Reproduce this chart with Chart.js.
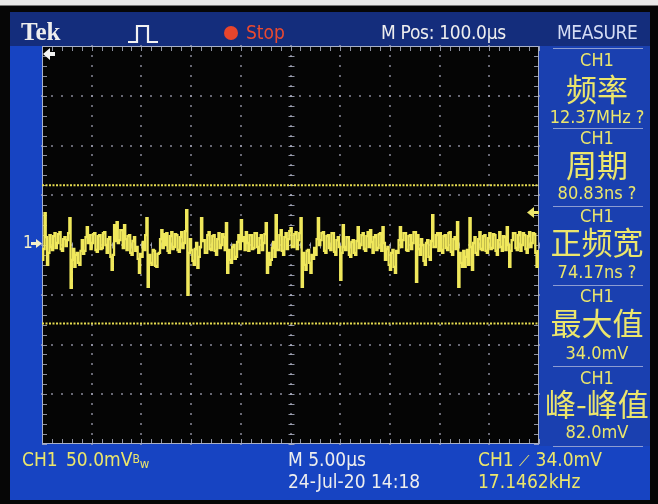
<!DOCTYPE html>
<html>
<head>
<meta charset="utf-8">
<script src="https://cdn.jsdelivr.net/npm/chart.js@4.4.1/dist/chart.umd.min.js"></script>
<style>
  body { margin: 0; background: #000; }
  #wrap { position: relative; width: 658px; height: 504px; overflow: hidden; background: #060606; }
  .blk { position: absolute; }
  .t { position: absolute; white-space: nowrap; line-height: 1; font-family: 'Liberation Sans Narrow', 'DejaVu Sans Condensed', sans-serif; z-index: 3; }
  .y { color: #ece66c; }
  .w { color: #eeeeee; }
  .cjk { font-family: 'Noto Sans CJK SC', sans-serif; font-size: 31px; }
  .mp { left: 545px; width: 104px; text-align: center; }
  .sep { position: absolute; left: 553px; width: 90px; height: 1px; background: #8d9dd2; z-index: 3; }
  #chart { position: absolute; left: 0; top: 0; z-index: 2; }
  svg { position: absolute; left: 0; top: 0; z-index: 3; }
</style>
</head>
<body>
<div id="wrap">
  <div class="blk" style="left:0;top:0;width:658px;height:5px;background:#e9e9e9"></div>
  <div class="blk" style="left:0;top:5px;width:658px;height:1px;background:#7a7a7a"></div>
  <div class="blk" style="left:10px;top:12px;width:640px;height:488px;background:#1744c2"></div>
  <div class="blk" style="left:10px;top:12px;width:640px;height:34px;background:#142d7c"></div>
  <div class="blk" style="left:539px;top:46px;width:111px;height:400px;background:#1a40b0"></div>

  <canvas id="chart" width="658" height="504"></canvas>

  <svg width="658" height="504">
    <polyline points="128,42 137,42 137,26 148,26 148,42 158,42" fill="none" stroke="#f2f2f2" stroke-width="2.2"/>
    <circle cx="231" cy="33" r="7" fill="#e8452c"/>
    <polygon points="43,54 50,48 50,52 55,52 55,56 50,56 50,60" fill="#f4f4f4"/>
  </svg>

  <div class="t w" style="left:21px;top:19px;font-family:'Liberation Serif',serif;font-weight:bold;font-size:25px">Tek</div>
  <div class="t" style="left:246px;top:23px;font-size:19px;color:#ea4a30">Stop</div>
  <div class="t w" style="left:381px;top:23px;font-size:19px;letter-spacing:-0.3px">M Pos: 100.0µs</div>
  <div class="t" style="left:557px;top:23px;font-size:19px;letter-spacing:-0.4px;color:#d4dcf4">MEASURE</div>
  <div class="sep" style="top:48px"></div>

  <div class="t y mp" style="top:51px;font-size:18px">CH1</div>
  <div class="t y mp cjk" style="top:72px">频率</div>
  <div class="t y mp" style="top:108px;font-size:18px">12.37MHz ?</div>
  <div class="sep" style="top:128px"></div>

  <div class="t y mp" style="top:129px;font-size:18px">CH1</div>
  <div class="t y mp cjk" style="top:148px">周期</div>
  <div class="t y mp" style="top:184px;font-size:18px">80.83ns ?</div>
  <div class="sep" style="top:206px"></div>

  <div class="t y mp" style="top:207px;font-size:18px">CH1</div>
  <div class="t y mp cjk" style="top:225px">正频宽</div>
  <div class="t y mp" style="top:263px;font-size:18px">74.17ns ?</div>
  <div class="sep" style="top:285px"></div>

  <div class="t y mp" style="top:287px;font-size:18px">CH1</div>
  <div class="t y mp cjk" style="top:306px">最大值</div>
  <div class="t y mp" style="top:344px;font-size:18px">34.0mV</div>
  <div class="sep" style="top:366px"></div>

  <div class="t y mp" style="top:369px;font-size:18px">CH1</div>
  <div class="t y mp cjk" style="top:387px">峰-峰值</div>
  <div class="t y mp" style="top:423px;font-size:18px">82.0mV</div>
  <div class="sep" style="top:446px"></div>

  <div class="t" style="left:23px;top:234px;font-size:17px;color:#f4f0c8">1</div>

  <div class="t y" style="left:22px;top:450px;font-size:19px">CH1</div>
  <div class="t y" style="left:66px;top:450px;font-size:19px">50.0mV<span style="font-size:12px;position:relative;top:-3px">B</span><span style="font-size:13px;position:relative;top:2px">w</span></div>
  <div class="t w" style="left:288px;top:450px;font-size:19px">M 5.00µs</div>
  <div class="t w" style="left:288px;top:472px;font-size:19px">24-Jul-20 14:18</div>
  <div class="t y" style="left:478px;top:450px;font-size:19px">CH1 <span style="font-family:'DejaVu Sans';font-size:15px">⟋</span> 34.0mV</div>
  <div class="t y" style="left:478px;top:472px;font-size:19px">17.1462kHz</div>
</div>

<script>
// CH1 trace, mV, one sample every 0.125 us (5 us/div, 10 div)
const ch1Volts = [
  -15, -4, 32, 8, -20, -8, 10, -2, -5, 9, 12, -3, 2, 11, 13, -4, -6, 6, 8, -1,
  5, 12, 27, -43, -15, -4, -22, -10, -8, -18, -20, -6, 5, -9, -6, 8, 18, 2, 10, -4,
  2, 11, 12, -5, -7, 9, 10, -4, -3, 12, 13, 0, -8, 6, 8, -12, -25, -10, 20, 4,
  23, 2, 5, 15, 15, -3, 20, 6, -5, 9, 10, -8, -10, 4, 8, -6, -2, -14, -28, -9,
  -12, 3, -5, 10, 27, -42, -10, -18, -20, -5, -6, -21, -22, -9, -8, 6, 15, -3, 11, 0,
  12, -6, -8, 9, 13, -4, -2, 11, 10, -5, -7, 8, 13, -3, 2, 14, 35, -50, -8, 6,
  -5, -16, -20, -4, 2, -23, -12, -2, 27, 4, 5, -8, -8, 10, 13, -4, -5, 9, 10, -6,
  -10, 6, 12, -3, 0, 11, 8, -5, 22, -28, -5, -15, -18, -2, 0, -14, -12, 3, 10, -4,
  25, 4, 8, -5, 13, 2, -6, 10, 10, -4, -3, 12, 12, -2, -8, 7, 10, -5, 2, 11,
  22, -28, -8, -20, -15, -3, 3, -12, 30, -5, -5, 10, 15, -6, -10, 8, 12, -4, 6, 14,
  17, -2, -2, 11, 13, -4, 5, 12, 27, -42, -8, -20, -25, -6, -5, -18, -28, -10, -14, -3,
  -10, 6, 27, 0, 5, 12, 13, -6, -8, 9, 10, -3, -5, 12, 12, -7, -10, 5, 8, -2,
  -35, -8, 20, -2, -5, 8, 8, -10, -12, 3, 5, -8, -10, 4, 18, -3, 0, 10, 12, -4,
  -6, 9, 13, -2, 15, 3, -8, 8, 10, -5, -3, 11, 12, -6, 18, 2, -15, -4, -2, -20,
  -25, -8, -5, -22, -28, -6, -8, 5, 18, -2, 5, 12, 12, -5, -6, 9, 10, -4, 2, 13,
  13, -37, 10, -4, -10, 6, 0, -16, -20, 2, 5, -12, -15, 4, 30, -2, -2, 10, 12, -6,
  12, -5, -8, 9, 10, -3, -5, 12, 13, -7, -10, 6, 8, -4, 23, -42, -8, -18, -22, -6,
  -22, -12, -5, -20, 27, -2, -25, 2, 8, -8, -10, 6, 13, -4, -5, 9, 10, -6, -8, 7,
  12, -4, -3, 11, 10, -6, -10, 5, 13, -2, -6, 9, 8, -5, 18, 0, -22, -6, 5, 12,
  12, -3, -5, 10, 13, -6, 0, 12, 10, -4, -8, 9, 13, -2, 2, 12, 11, -8, -22, -5
];
const sampleStep = 0.125;          // us
const xDivTicks = [0, 5, 10, 15, 20, 25, 30, 35, 40, 45, 50];              // us
const yDivTicks = [-200, -150, -100, -50, 0, 50, 100, 150, 200];          // mV
const cursorLevels = [60, -79];    // mV, yellow dotted lines
const triggerLevel = 34;           // mV
const groundLevel = 0;             // mV

const tracePoints = ch1Volts.map((v, i) => ({ x: i * sampleStep, y: v }));

const tekGrid = {
  id: 'tekGrid',
  beforeDatasetsDraw(chart) {
    const { ctx, chartArea: a, scales: { x, y } } = chart;
    ctx.save();
    ctx.fillStyle = '#050505';
    ctx.fillRect(a.left, a.top, a.right - a.left, a.bottom - a.top);

    const xMin = [], yMin = [];
    for (let v = 0; v <= 50; v += 1) xMin.push(v);
    for (let v = -200; v <= 200; v += 10) yMin.push(v);

    // dotted graticule
    ctx.fillStyle = 'rgba(170,170,190,0.6)';
    xDivTicks.slice(1, -1).forEach(xv => {
      const px = Math.round(x.getPixelForValue(xv));
      yMin.forEach(yv => ctx.fillRect(px - 1, Math.round(y.getPixelForValue(yv)) - 1, 2, 2));
    });
    yDivTicks.slice(1, -1).forEach(yv => {
      const py = Math.round(y.getPixelForValue(yv));
      xMin.forEach(xv => ctx.fillRect(Math.round(x.getPixelForValue(xv)) - 1, py - 1, 2, 2));
    });

    // centre cross and edge ticks
    ctx.strokeStyle = 'rgba(175,180,200,0.8)';
    ctx.lineWidth = 1;
    const cx = Math.round(x.getPixelForValue(25)) + 0.5;
    const cy = Math.round(y.getPixelForValue(0)) + 0.5;
    ctx.beginPath();
    yMin.forEach(yv => {
      const py = Math.round(y.getPixelForValue(yv)) + 0.5;
      ctx.moveTo(cx - 3, py); ctx.lineTo(cx + 3, py);
      ctx.moveTo(a.left, py); ctx.lineTo(a.left + 5, py);
      ctx.moveTo(a.right, py); ctx.lineTo(a.right - 5, py);
    });
    xMin.forEach(xv => {
      const px = Math.round(x.getPixelForValue(xv)) + 0.5;
      ctx.moveTo(px, cy - 3); ctx.lineTo(px, cy + 3);
      ctx.moveTo(px, a.top); ctx.lineTo(px, a.top + 5);
      ctx.moveTo(px, a.bottom); ctx.lineTo(px, a.bottom - 5);
    });
    ctx.stroke();

    ctx.strokeStyle = '#a9b1c8';
    ctx.strokeRect(a.left + 0.5, a.top + 0.5, a.right - a.left - 1, a.bottom - a.top - 1);
    ctx.restore();
  },
  afterDraw(chart) {
    const { ctx, scales: { y } } = chart;
    ctx.save();
    // ground marker
    const gy = Math.round(y.getPixelForValue(groundLevel)) - 2;
    ctx.fillStyle = '#f4f0c8';
    ctx.fillRect(31, gy - 1, 7, 3);
    ctx.beginPath();
    ctx.moveTo(42, gy + 0.5); ctx.lineTo(36, gy - 4); ctx.lineTo(36, gy + 5);
    ctx.closePath(); ctx.fill();
    // trigger level marker
    const ty = Math.round(y.getPixelForValue(triggerLevel)) + 1;
    ctx.fillStyle = '#ece66c';
    ctx.fillRect(533, ty - 1, 6, 3);
    ctx.beginPath();
    ctx.moveTo(527, ty + 0.5); ctx.lineTo(534, ty - 5); ctx.lineTo(534, ty + 6);
    ctx.closePath(); ctx.fill();
    ctx.restore();
  }
};

const ctx = document.getElementById('chart').getContext('2d');
const chart = new Chart(ctx, {
  type: 'line',
  data: {
    datasets: [
      {
        label: 'CH1',
        data: tracePoints,
        borderColor: '#f0e85c',
        borderWidth: 2.3,
        stepped: true,
        pointRadius: 0
      },
      ...cursorLevels.map(lv => ({
        label: 'cursor',
        data: [{ x: 0, y: lv }, { x: 50, y: lv }],
        borderColor: '#e6dc50',
        borderWidth: 2,
        borderDash: [2, 1.5],
        pointRadius: 0
      }))
    ]
  },
  options: {
    responsive: false,
    animation: false,
    layout: { padding: { left: 42, right: 119, top: 46, bottom: 60 } },
    plugins: { legend: { display: false }, tooltip: { enabled: false } },
    scales: {
      x: { type: 'linear', min: 0, max: 50, display: false },
      y: { min: -200, max: 200, display: false }
    }
  },
  plugins: [tekGrid]
});
</script>
</body>
</html>
